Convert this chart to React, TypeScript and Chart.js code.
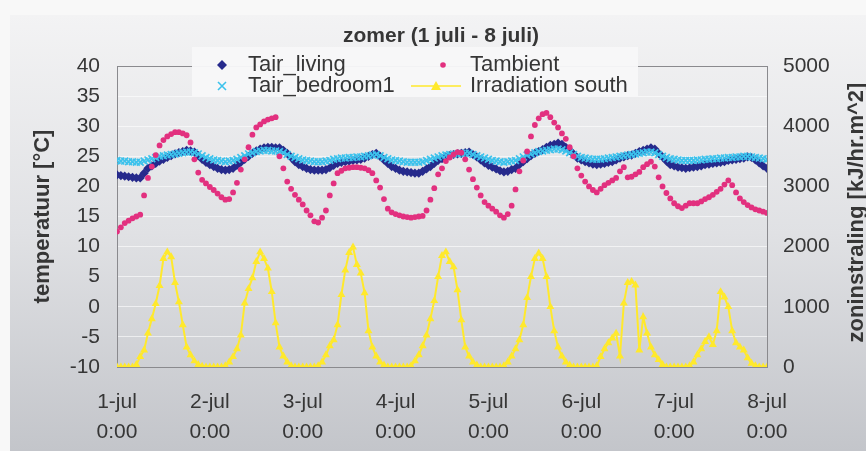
import { useEffect, useRef } from 'react';
import { Chart, registerables } from 'chart.js';

Chart.register(...registerables);

const W = 866;
const H = 451;

const chartTitle = 'zomer (1 juli - 8 juli)';
const leftTitle = 'temperatuur [°C]';
const rightTitle = 'zoninstraling [kJ/hr.m^2]';

const dayLabels = ['1-jul', '2-jul', '3-jul', '4-jul', '5-jul', '6-jul', '7-jul', '8-jul'];
const hourLabel = '0:00';

const seriesNames = ['Tair_living', 'Tair_bedroom1', 'Tambient', 'Irradiation south'];

// hourly values, 1 juli 0:00 .. 8 juli 0:00
const tairLiving = [
  21.9, 21.8, 21.7, 21.6, 21.5, 21.4, 21.4, 22.2, 23.0, 23.4, 23.8, 24.2, 24.5, 24.8, 25.1, 25.4, 25.6, 25.8, 26.0, 25.9, 25.7, 25.1, 24.5, 24.0,
  23.6, 23.3, 23.0, 22.8, 22.7, 22.8, 23.0, 23.5, 24.0, 24.5, 25.0, 25.5, 25.9, 26.2, 26.4, 26.5, 26.5, 26.4, 26.4, 26.0, 25.5, 24.8, 24.1, 23.6,
  23.3, 23.0, 22.8, 22.7, 22.7, 22.7, 22.8, 23.1, 23.5, 23.8, 24.0, 24.1, 24.2, 24.3, 24.4, 24.5, 24.7, 25.0, 25.3, 25.5, 25.0, 24.4, 23.8, 23.3,
  23.0, 22.7, 22.5, 22.4, 22.3, 22.2, 22.2, 22.5, 22.9, 23.3, 23.8, 24.3, 24.6, 24.9, 25.1, 25.3, 25.4, 25.5, 25.6, 25.7, 25.3, 24.9, 24.4, 23.9,
  23.5, 23.2, 22.9, 22.6, 22.4, 22.5, 22.8, 23.0, 23.6, 24.1, 24.6, 25.1, 25.5, 25.8, 26.1, 26.5, 26.8, 27.0, 27.2, 27.0, 26.5, 26.0, 25.4, 24.7,
  24.4, 24.1, 23.9, 23.7, 23.6, 23.7, 23.8, 24.0, 24.1, 24.4, 24.7, 24.9, 25.1, 25.2, 25.5, 25.8, 26.0, 26.2, 26.4, 26.2, 25.5, 24.9, 24.2, 23.6,
  23.4, 23.2, 23.1, 23.0, 23.1, 23.2, 23.3, 23.4, 23.6, 23.7, 23.8, 23.9, 24.0, 24.1, 24.3, 24.4, 24.5, 24.6, 24.7, 24.9, 24.8, 24.4, 23.9, 23.4, 23.0,
];

const tairBedroom1 = [
  24.3, 24.2, 24.2, 24.1, 24.1, 24.0, 24.0, 24.2, 24.4, 24.6, 24.8, 25.0, 25.1, 25.2, 25.3, 25.4, 25.5, 25.6, 25.7, 25.7, 25.6, 25.4, 25.1, 24.8,
  24.6, 24.4, 24.3, 24.2, 24.1, 24.2, 24.3, 24.5, 24.8, 25.1, 25.4, 25.6, 25.8, 25.9, 26.0, 26.0, 25.9, 25.9, 25.8, 25.6, 25.3, 25.0, 24.8, 24.6,
  24.4, 24.3, 24.2, 24.1, 24.1, 24.1, 24.2, 24.3, 24.5, 24.6, 24.7, 24.7, 24.8, 24.8, 24.9, 24.9, 25.0, 25.1, 25.2, 25.3, 25.1, 24.8, 24.6, 24.4,
  24.3, 24.2, 24.1, 24.0, 24.0, 24.0, 24.0, 24.1, 24.3, 24.5, 24.7, 24.9, 25.1, 25.2, 25.3, 25.4, 25.4, 25.5, 25.5, 25.5, 25.3, 25.1, 24.9, 24.7,
  24.5, 24.3, 24.2, 24.1, 24.0, 24.1, 24.2, 24.3, 24.6, 24.9, 25.2, 25.4, 25.6, 25.8, 25.9, 26.0, 26.1, 26.2, 26.2, 26.1, 25.9, 25.6, 25.3, 25.0,
  24.8, 24.7, 24.6, 24.5, 24.5, 24.5, 24.6, 24.7, 24.8, 24.9, 25.0, 25.1, 25.2, 25.3, 25.4, 25.5, 25.6, 25.7, 25.7, 25.6, 25.3, 25.0, 24.8, 24.6,
  24.5, 24.4, 24.3, 24.3, 24.3, 24.3, 24.4, 24.4, 24.5, 24.5, 24.6, 24.6, 24.7, 24.7, 24.8, 24.8, 24.9, 24.9, 25.0, 25.0, 24.9, 24.8, 24.7, 24.6, 24.5,
];

const tambient = [
  12.5, 13.2, 13.9, 14.3, 14.7, 15.0, 15.3, 18.5, 21.4, 23.3, 25.2, 26.8, 27.7, 28.3, 28.7, 29.0, 29.0, 28.8, 28.5, 27.3, 24.5, 22.3, 21.1, 20.5,
  19.9, 19.4, 18.8, 18.2, 17.8, 17.9, 19.0, 20.6, 22.8, 24.5, 26.5, 28.6, 29.8, 30.3, 30.8, 31.1, 31.3, 31.5, 25.0, 23.0, 20.8, 19.6, 18.6, 17.8,
  17.0, 16.0, 15.2, 14.2, 14.0, 14.8, 16.0, 18.5, 20.5, 22.2, 22.6, 23.0, 23.1, 23.2, 23.2, 23.1, 23.0, 22.7, 22.2, 21.0, 19.8, 17.9, 16.3, 15.7,
  15.4, 15.2, 15.0, 14.9, 14.8, 14.9, 15.0, 15.1, 16.0, 17.8, 19.7, 22.0, 23.0, 24.2, 24.8, 25.3, 25.7, 25.6, 24.5, 22.8, 21.2, 19.8, 18.5, 17.4,
  16.8, 16.3, 15.8, 15.2, 14.8, 15.4, 16.8, 19.5, 22.5, 24.3, 25.8, 28.3, 30.2, 31.3, 32.0, 32.2, 31.5, 30.6, 29.8, 28.8, 27.9, 26.5, 25.0, 23.0,
  21.8, 20.8, 20.0, 19.4, 19.0, 19.6, 20.2, 20.6, 21.0, 21.4, 22.5, 23.2, 21.5, 21.6, 22.0, 22.4, 23.2, 23.7, 24.1, 23.3, 21.5, 20.0, 18.9, 18.0,
  17.2, 16.7, 16.4, 16.8, 17.2, 17.2, 17.2, 17.5, 17.9, 18.2, 18.6, 19.1, 19.6, 20.3, 21.0, 20.2, 19.0, 18.0, 17.4, 16.9, 16.5, 16.2, 16.0, 15.8, 15.6,
];

const irradiationSouth = [
  0, 0, 0, 0, 0, 40, 170, 280, 560, 800, 1050, 1350, 1800, 1910, 1830, 1400, 1080, 700, 330, 200, 100, 40, 10, 0,
  0, 0, 0, 0, 20, 80, 170, 300, 530, 1060, 1300, 1480, 1750, 1910, 1800, 1640, 1250, 730, 330, 180, 80, 20, 0, 0,
  0, 0, 0, 0, 20, 80, 200, 350, 450, 700, 1200, 1610, 1900, 1990, 1700, 1560, 1230, 600, 330, 180, 80, 30, 0, 0,
  0, 0, 0, 0, 20, 100, 200, 350, 530, 800, 1100, 1500, 1850, 1910, 1750, 1660, 1280, 780, 330, 180, 80, 30, 0, 0,
  0, 0, 0, 0, 20, 80, 180, 300, 450, 700, 1150, 1500, 1800, 1890, 1800, 1500, 1000, 600, 330, 180, 80, 30, 0, 0,
  0, 0, 0, 0, 20, 170, 300, 400, 480, 560, 180, 1060, 1400, 1420, 1360, 280, 830, 560, 330, 200, 120, 40, 0, 0,
  0, 0, 0, 0, 20, 80, 200, 300, 420, 500, 370, 600, 1250, 1160, 1000, 600, 400, 330, 280, 150, 60, 20, 0, 0, 0,
];

const colLiving = '#262a8c';
const colBedroom = '#3cc2ec';
const colAmbient = '#e2307f';
const colIrr = '#ffe92c';
const textCol = '#363636';
const fontFamily = '"Liberation Sans", Arial, sans-serif';

const toPoints = (vals: number[]) => vals.map((v, i) => ({ x: i, y: v }));

const frame = {
  id: 'frame',
  beforeDraw(chart: any) {
    const { ctx } = chart;
    ctx.save();
    ctx.fillStyle = '#f8f8f8';
    ctx.fillRect(0, 0, W, H);
    const g = ctx.createLinearGradient(0, 15, 0, H);
    g.addColorStop(0, '#f3f3f4');
    g.addColorStop(0.5, '#e0e1e4');
    g.addColorStop(1, '#c3c5ca');
    ctx.fillStyle = g;
    ctx.fillRect(10, 15, W - 10, H - 15);
    ctx.restore();
  },
  beforeDatasetsDraw(chart: any) {
    const { ctx, chartArea: a } = chart;
    ctx.save();
    ctx.strokeStyle = '#8a8a8e';
    ctx.lineWidth = 1;
    ctx.strokeRect(Math.round(a.left) + 0.5, Math.round(a.top) + 0.5, Math.round(a.right - a.left), Math.round(a.bottom - a.top));
    ctx.restore();
  },
  afterDraw(chart: any) {
    const { ctx, chartArea: a } = chart;
    ctx.save();
    ctx.fillStyle = textCol;
    ctx.textAlign = 'center';
    ctx.textBaseline = 'middle';

    // title
    ctx.font = `bold 21px ${fontFamily}`;
    ctx.fillText(chartTitle, 441, 36);

    // axis titles
    const midY = (a.top + a.bottom) / 2;
    ctx.font = `bold 22px ${fontFamily}`;
    ctx.save();
    ctx.translate(43, midY);
    ctx.rotate(-Math.PI / 2);
    ctx.fillText(leftTitle, 0, 0);
    ctx.restore();
    ctx.save();
    ctx.translate(857, midY - 4);
    ctx.rotate(-Math.PI / 2);
    ctx.fillText(rightTitle, 0, 0);
    ctx.restore();

    // legend
    ctx.fillStyle = 'rgba(247,247,248,0.96)';
    ctx.fillRect(192, 47, 446, 50);
    ctx.font = `22px ${fontFamily}`;
    ctx.textAlign = 'left';
    ctx.fillStyle = textCol;
    const r1 = 65;
    const r2 = 86;
    ctx.fillText(seriesNames[0], 248, r1);
    ctx.fillText(seriesNames[1], 248, r2);
    ctx.fillText(seriesNames[2], 470, r1);
    ctx.fillText(seriesNames[3], 470, r2);

    // diamond
    ctx.fillStyle = colLiving;
    ctx.beginPath();
    ctx.moveTo(222, r1 - 5);
    ctx.lineTo(227, r1);
    ctx.lineTo(222, r1 + 5);
    ctx.lineTo(217, r1);
    ctx.closePath();
    ctx.fill();
    // cross
    ctx.strokeStyle = colBedroom;
    ctx.lineWidth = 1.6;
    ctx.beginPath();
    ctx.moveTo(218, r2 - 4);
    ctx.lineTo(226, r2 + 4);
    ctx.moveTo(226, r2 - 4);
    ctx.lineTo(218, r2 + 4);
    ctx.stroke();
    // dot
    ctx.fillStyle = colAmbient;
    ctx.beginPath();
    ctx.arc(443, r1, 2.8, 0, Math.PI * 2);
    ctx.fill();
    // line with triangle
    ctx.strokeStyle = colIrr;
    ctx.lineWidth = 1.5;
    ctx.beginPath();
    ctx.moveTo(411, r2);
    ctx.lineTo(461, r2);
    ctx.stroke();
    ctx.fillStyle = colIrr;
    ctx.beginPath();
    ctx.moveTo(436, r2 - 5);
    ctx.lineTo(441, r2 + 4);
    ctx.lineTo(431, r2 + 4);
    ctx.closePath();
    ctx.fill();
    ctx.restore();
  },
};

export default function App() {
  const ref = useRef<HTMLCanvasElement | null>(null);

  useEffect(() => {
    if (!ref.current) return;
    const tickFont = { family: fontFamily, size: 21 };
    const chart = new Chart(ref.current, {
      type: 'line',
      data: {
        datasets: [
          {
            label: seriesNames[0],
            data: toPoints(tairLiving),
            showLine: false,
            pointStyle: 'rectRot',
            pointRadius: 4.6,
            pointBackgroundColor: colLiving,
            pointBorderColor: colLiving,
            pointBorderWidth: 0,
            yAxisID: 'y',
            order: 2,
          },
          {
            label: seriesNames[1],
            data: toPoints(tairBedroom1),
            showLine: false,
            pointStyle: 'crossRot',
            pointRadius: 4.8,
            pointBorderColor: colBedroom,
            pointBorderWidth: 1.7,
            yAxisID: 'y',
            order: 1,
          },
          {
            label: seriesNames[2],
            data: toPoints(tambient),
            showLine: false,
            pointStyle: 'circle',
            pointRadius: 2.9,
            pointBackgroundColor: colAmbient,
            pointBorderColor: colAmbient,
            pointBorderWidth: 0,
            yAxisID: 'y',
            order: 0,
          },
          {
            label: seriesNames[3],
            data: toPoints(irradiationSouth),
            borderColor: colIrr,
            borderWidth: 2,
            pointStyle: 'triangle',
            pointRadius: 4.6,
            pointBackgroundColor: colIrr,
            pointBorderColor: colIrr,
            pointBorderWidth: 0,
            yAxisID: 'y1',
            order: 3,
          },
        ],
      } as any,
      options: {
        responsive: false,
        animation: false,
        events: [],
        layout: { padding: { top: 66, left: 0, right: 0, bottom: 0 } },
        plugins: {
          legend: { display: false },
          title: { display: false },
          tooltip: { enabled: false },
        },
        scales: {
          x: {
            type: 'linear',
            min: 0,
            max: 168,
            afterBuildTicks: (s: any) => {
              s.ticks = dayLabels.map((_, i) => ({ value: i * 24 }));
            },
            ticks: {
              autoSkip: false,
              maxRotation: 0,
              minRotation: 0,
              padding: 21,
              color: textCol,
              font: { ...tickFont, lineHeight: 1.4 },
              callback: (v: any) => [dayLabels[Math.round(v / 24)], hourLabel],
            },
            grid: { display: false, drawTicks: false },
            border: { display: false },
            afterFit: (s: any) => {
              s.height = 84;
            },
          },
          y: {
            position: 'left',
            min: -10,
            max: 40,
            ticks: { stepSize: 5, padding: 17, color: textCol, font: tickFont, callback: (v: any) => String(v) },
            grid: { color: 'rgba(255,255,255,0.6)', drawTicks: false, lineWidth: 1 },
            border: { display: false },
            afterFit: (s: any) => {
              s.width = 117;
            },
          },
          y1: {
            position: 'right',
            min: 0,
            max: 5000,
            ticks: { stepSize: 1000, padding: 16, color: textCol, font: tickFont, callback: (v: any) => String(v) },
            grid: { display: false, drawTicks: false },
            border: { display: false },
            afterFit: (s: any) => {
              s.width = 99;
            },
          },
        },
      } as any,
      plugins: [frame],
    });
    return () => chart.destroy();
  }, []);

  return (
    <div style={{ position: 'absolute', left: 0, top: 0, width: W, height: H }}>
      <canvas ref={ref} width={W} height={H} style={{ width: W, height: H, display: 'block' }} />
    </div>
  );
}
